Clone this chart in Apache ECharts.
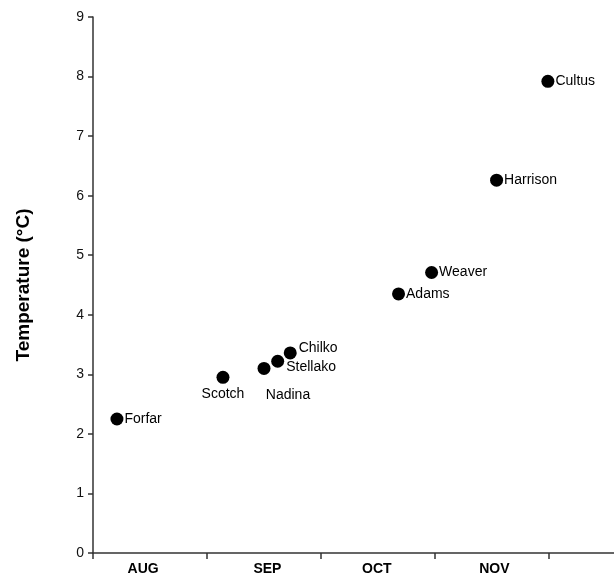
<!DOCTYPE html>
<html>
<head>
<meta charset="utf-8">
<script src="https://cdn.jsdelivr.net/npm/echarts@6/dist/echarts.min.js"></script>
<style>html,body{margin:0;padding:0;background:#fff}#c{width:614px;height:579px}</style>
</head>
<body>
<div id="c"></div>
<script>
// Data
const sites = ['Forfar','Scotch','Nadina','Stellako','Chilko','Adams','Weaver','Harrison','Cultus'];
const timing = [0.21, 1.14, 1.50, 1.62, 1.73, 2.68, 2.97, 3.54, 3.99]; // months after 1 Aug
const temperature = [2.25, 2.95, 3.10, 3.22, 3.36, 4.35, 4.71, 6.26, 7.92];
const months = ['AUG','SEP','OCT','NOV'];
const yTicks = [0,1,2,3,4,5,6,7,8,9];

const labelStyle = {
  Scotch:   {position:'bottom', distance:3},
  Nadina:   {position:'bottom', distance:3, offset:[24,10]},
  Stellako: {position:'right', distance:2, offset:[0,6]},
  Chilko:   {position:'right', distance:2, offset:[0,-5]}
};

const font = 'Liberation Sans, Arial, sans-serif';
const chart = echarts.init(document.getElementById('c'));
chart.setOption({
  animation:false,
  grid:{left:93, right:0, top:17, bottom:26, containLabel:false},
  xAxis:{
    type:'value', min:0, max:4.57, interval:1,
    axisLine:{lineStyle:{color:'#333', width:1.5}},
    axisTick:{show:true, length:6, lineStyle:{color:'#333', width:1.5}, customValues:[0,1,2,3,4]},
    axisLabel:{customValues:[0.44,1.53,2.49,3.52], formatter:v=>months[Math.floor(v)], color:'#000', fontFamily:font, fontSize:14, fontWeight:'bold', margin:9},
    splitLine:{show:false}
  },
  yAxis:{
    type:'value', min:yTicks[0], max:yTicks[yTicks.length-1], interval:1,
    name:'Temperature (°C)', nameLocation:'middle', nameGap:60, nameRotate:90,
    nameTextStyle:{color:'#000', fontFamily:font, fontSize:19, fontWeight:'bold'},
    axisLine:{show:true, lineStyle:{color:'#333', width:1.5}},
    axisTick:{show:true, length:5, lineStyle:{color:'#333', width:1.5}},
    axisLabel:{color:'#111', fontFamily:font, fontSize:14, margin:9},
    splitLine:{show:false}
  },
  series:[{
    type:'scatter', symbolSize:13,
    itemStyle:{color:'#000', opacity:1},
    label:{show:true, position:'right', distance:1, formatter:'{b}', color:'#000', fontFamily:font, fontSize:14},
    data:sites.map((n,i)=>({name:n, value:[timing[i], temperature[i]], label:labelStyle[n]||{}}))
  }]
});
</script>
</body>
</html>
